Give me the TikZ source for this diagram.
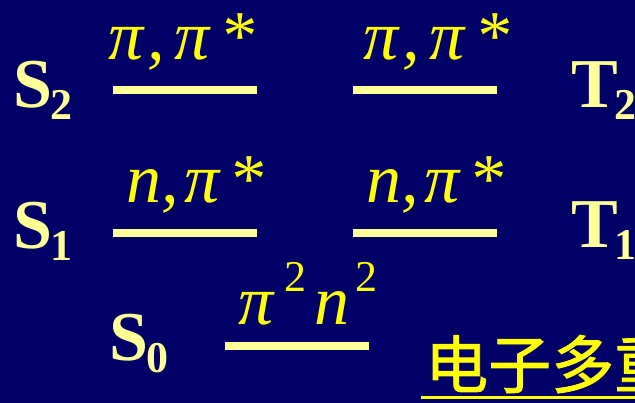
\documentclass[tikz,border=0pt]{standalone}
\usepackage{fontspec}
\setmainfont{Liberation Serif}
\newfontfamily\cjk[FakeBold=1.3]{Noto Sans CJK SC}
\definecolor{bg}{RGB}{0,0,102}
\definecolor{pale}{RGB}{255,255,153}
\definecolor{yel}{RGB}{255,255,0}
\newcommand{\subx}[1]{\raisebox{-12pt}{\fontsize{44}{44}\selectfont #1}}
\newcommand{\supx}[1]{\raisebox{33pt}{\fontsize{44}{44}\selectfont\upshape #1}}
\begin{document}
\begin{tikzpicture}[x=1pt,y=-1pt,
  statelab/.style={font=\fontsize{70}{70}\selectfont\bfseries, text=pale, inner sep=0pt, anchor=base west},
  orblab/.style={font=\fontsize{70}{70}\selectfont\itshape, text=yel, inner sep=0pt, anchor=base west},
  level/.style={draw=pale, line width=8pt}]
\useasboundingbox (0,0) rectangle (635,403);
\clip (0,0) rectangle (635,403);
\fill[bg] (0,0) rectangle (635,403);
% level lines
\coordinate (s2a) at (113,90); \coordinate (s2b) at (257,90);
\coordinate (t2a) at (353,90); \coordinate (t2b) at (497,90);
\coordinate (s1a) at (113,233.5); \coordinate (s1b) at (257,233.5);
\coordinate (t1a) at (353,233.5); \coordinate (t1b) at (497,233.5);
\coordinate (s0a) at (225,346); \coordinate (s0b) at (369,346);
\draw[level] (s2a) -- (s2b);
\draw[level] (t2a) -- (t2b);
\draw[level] (s1a) -- (s1b);
\draw[level] (t1a) -- (t1b);
\draw[level] (s0a) -- (s0b);
% state labels
\node[statelab] (S2) at (13,108) {S\kern-2pt\subx{2}};
\node[statelab] (T2) at (571,108) {T\kern-3pt\subx{2}};
\node[statelab] (S1) at (13,249) {S\kern-2pt\subx{1}};
\node[statelab] (T1) at (571,248) {T\kern-3pt\subx{1}};
\node[statelab] (S0) at (109,361) {S\kern-2pt\subx{0}};
% orbital labels
\node[orblab] (o2l) at (108,60) {π\kern4pt,\kern10ptπ\kern10pt*};
\node[orblab] (o2r) at (363,60) {π\kern4pt,\kern10ptπ\kern10pt*};
\node[orblab] (o1l) at (126,203) {n\kern0pt,\kern6ptπ\kern9pt*};
\node[orblab] (o1r) at (366,203) {n\kern0pt,\kern6ptπ\kern9pt*};
\node[orblab] (o0) at (238,325) {π\kern11pt\supx{2}\kern8pt n\kern6pt\supx{2}};
% CJK heading
\node[inner sep=0pt, anchor=base west, text=yel, font=\cjk\fontsize{63}{63}\selectfont] (cj) at (425,388) {电子多重};
\coordinate (ula) at (421,397.5); \coordinate (ulb) at (640,397.5);
\draw[draw=yel, line width=3.5pt] (ula) -- (ulb);
\end{tikzpicture}
\end{document}
